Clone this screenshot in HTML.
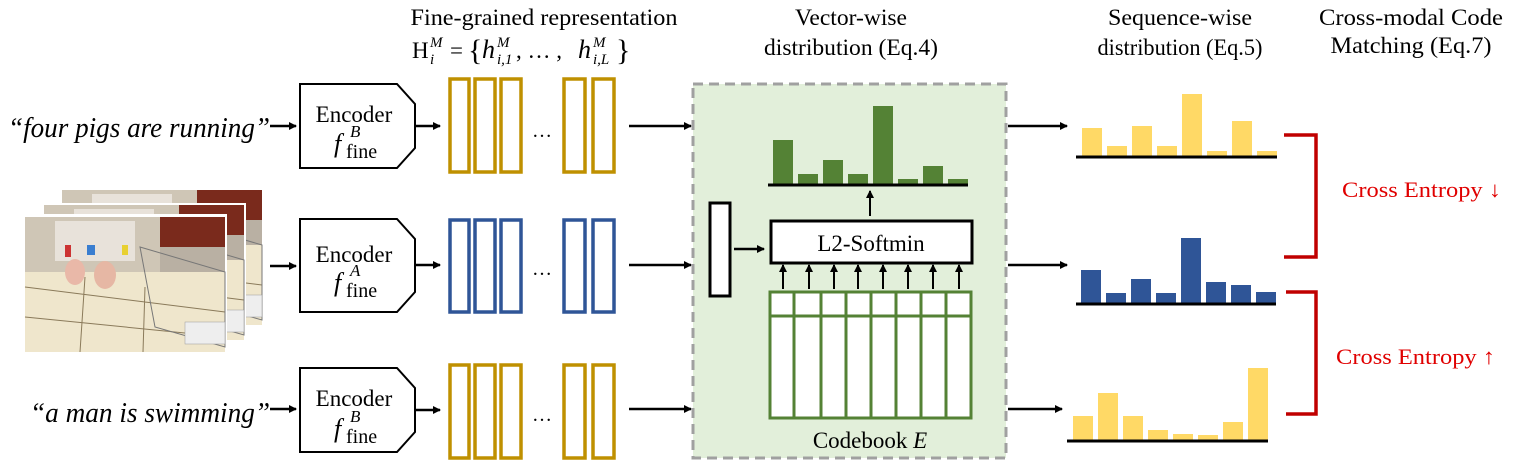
<!DOCTYPE html>
<html><head><meta charset="utf-8"><style>
html,body{margin:0;padding:0;background:#fff;}
svg{display:block;font-family:"Liberation Serif",serif;}
</style></head><body>
<svg width="1522" height="465" viewBox="0 0 1522 465" xmlns="http://www.w3.org/2000/svg">
<defs>
<marker id="ah" markerWidth="8" markerHeight="8" refX="7" refY="4" orient="auto" markerUnits="userSpaceOnUse"><path d="M0,0 L8,4 L0,8 Z" fill="#000"/></marker>
<g id="frame">
<rect x="0" y="0" width="200" height="135" fill="#efe6cc"/>
<rect x="0" y="0" width="200" height="55" fill="#cfc6b6"/>
<rect x="30" y="4" width="80" height="40" fill="#e8e2da"/>
<rect x="135" y="0" width="65" height="30" fill="#7a2a1c"/>
<rect x="135" y="30" width="65" height="25" fill="#b9b0a3"/>
<path d="M0,70 L200,95 M0,100 L200,120 M60,60 L55,135 M120,70 L118,135" stroke="#8a7a5a" stroke-width="1" fill="none"/>
<path d="M115,30 L200,55 L200,130 L130,110 Z" fill="none" stroke="#777" stroke-width="1"/>
<ellipse cx="50" cy="55" rx="10" ry="13" fill="#e9b8a8"/>
<ellipse cx="80" cy="58" rx="11" ry="14" fill="#e6b7a4"/>
<rect x="40" y="28" width="6" height="12" fill="#c33"/>
<rect x="62" y="28" width="8" height="10" fill="#3a7ed0"/>
<rect x="97" y="28" width="6" height="10" fill="#e8d030"/>
<rect x="160" y="105" width="40" height="22" fill="#eee" stroke="#999" stroke-width="0.5"/>
</g>
</defs>

<!-- headers -->
<g font-size="23" text-anchor="middle" fill="#000">
<text x="544" y="25" textLength="267" lengthAdjust="spacingAndGlyphs">Fine-grained representation</text>
<text x="851" y="25" textLength="112" lengthAdjust="spacingAndGlyphs">Vector-wise</text>
<text x="851" y="55" textLength="174" lengthAdjust="spacingAndGlyphs">distribution (Eq.4)</text>
<text x="1180" y="25" textLength="144" lengthAdjust="spacingAndGlyphs">Sequence-wise</text>
<text x="1180" y="55" textLength="165" lengthAdjust="spacingAndGlyphs">distribution (Eq.5)</text>
<text x="1411" y="25" textLength="184" lengthAdjust="spacingAndGlyphs">Cross-modal Code</text>
<text x="1411" y="53" textLength="161" lengthAdjust="spacingAndGlyphs">Matching (Eq.7)</text>
</g>
<!-- formula -->
<g fill="#000">
<text x="412" y="58" font-size="23">H</text>
<text x="430" y="47" font-size="15" font-style="italic">M</text>
<text x="430" y="64" font-size="15" font-style="italic">i</text>
<text x="450" y="58" font-size="23">=</text>
<text x="468" y="60" font-size="30">{</text>
<text x="482" y="58" font-size="26" font-style="italic">h</text>
<text x="497" y="47" font-size="15" font-style="italic">M</text>
<text x="497" y="64" font-size="15" font-style="italic">i,1</text>
<text x="516" y="58" font-size="23">, … ,</text>
<text x="578" y="58" font-size="26" font-style="italic">h</text>
<text x="593" y="47" font-size="15" font-style="italic">M</text>
<text x="593" y="64" font-size="15" font-style="italic">i,L</text>
<text x="616" y="60" font-size="30">}</text>
</g>

<!-- quotes -->
<g font-size="28" font-style="italic" fill="#000">
<text x="8" y="137" textLength="262" lengthAdjust="spacingAndGlyphs">“four pigs are running”</text>
<text x="30" y="422" textLength="240" lengthAdjust="spacingAndGlyphs">“a man is swimming”</text>
</g>

<!-- photo stack -->
<g transform="translate(62,190)"><use href="#frame"/></g>
<rect x="42" y="203" width="204" height="136" fill="#fff"/>
<g transform="translate(44,205)"><use href="#frame"/></g>
<rect x="23" y="214" width="204" height="138" fill="#fff"/>
<g transform="translate(25,217)"><use href="#frame"/></g>

<!-- input arrows -->
<g stroke="#000" stroke-width="2.5" marker-end="url(#ah)">
<line x1="270" y1="126" x2="296" y2="126"/>
<line x1="270" y1="266" x2="296" y2="266"/>
<line x1="270" y1="409" x2="296" y2="409"/>
<line x1="416" y1="126" x2="440" y2="126"/>
<line x1="416" y1="265" x2="440" y2="265"/>
<line x1="416" y1="410" x2="440" y2="410"/>
<line x1="629" y1="126" x2="691" y2="126"/>
<line x1="629" y1="265" x2="691" y2="265"/>
<line x1="629" y1="409" x2="691" y2="409"/>
</g>

<!-- encoders -->
<g fill="#fff" stroke="#000" stroke-width="2">
<path d="M300,84 L397,84 L415,104 L415,148 L397,168 L300,168 Z"/>
<path d="M300,219 L397,219 L415,239 L415,292 L397,312 L300,312 Z"/>
<path d="M300,368 L397,368 L415,388 L415,432 L397,452 L300,452 Z"/>
</g>
<g font-size="23" text-anchor="middle">
<text x="354" y="122">Encoder</text>
<text x="354" y="262">Encoder</text>
<text x="354" y="406">Encoder</text>
</g>
<g>
<text x="334" y="152" font-size="26" font-style="italic">f</text><text x="350" y="137" font-size="17" font-style="italic">B</text><text x="346" y="158" font-size="20">fine</text>
<text x="334" y="291" font-size="26" font-style="italic">f</text><text x="350" y="276" font-size="17" font-style="italic">A</text><text x="346" y="297" font-size="20">fine</text>
<text x="334" y="437" font-size="26" font-style="italic">f</text><text x="350" y="422" font-size="17" font-style="italic">B</text><text x="346" y="443" font-size="20">fine</text>
</g>

<!-- representation rects -->
<g fill="none" stroke-width="3.5">
<g stroke="#BF9000">
<rect x="450" y="79" width="19" height="93"/><rect x="475" y="79" width="20" height="93"/><rect x="501" y="79" width="20" height="93"/><rect x="564" y="79" width="21" height="93"/><rect x="593" y="79" width="21" height="93"/>
<rect x="450" y="365" width="19" height="93"/><rect x="475" y="365" width="20" height="93"/><rect x="501" y="365" width="20" height="93"/><rect x="564" y="365" width="21" height="93"/><rect x="593" y="365" width="21" height="93"/>
</g>
<g stroke="#2F5597">
<rect x="450" y="220" width="19" height="92"/><rect x="475" y="220" width="20" height="92"/><rect x="501" y="220" width="20" height="92"/><rect x="564" y="220" width="21" height="92"/><rect x="593" y="220" width="21" height="92"/>
</g>
</g>
<g font-size="20" text-anchor="middle"><text x="542" y="137">…</text><text x="542" y="275">…</text><text x="542" y="421">…</text></g>

<!-- green box -->
<rect x="693" y="84" width="313" height="374" fill="#E2EFDA" stroke="#a0a0a0" stroke-width="3" stroke-dasharray="10,6"/>
<rect x="710" y="203" width="20" height="93" fill="#fff" stroke="#000" stroke-width="3"/>
<line x1="734" y1="249" x2="764" y2="249" stroke="#000" stroke-width="2.5" marker-end="url(#ah)"/>
<rect x="771" y="221" width="201" height="42" fill="#fff" stroke="#000" stroke-width="3"/>
<text x="871" y="251" font-size="23" text-anchor="middle">L2-Softmin</text>
<g stroke="#000" stroke-width="2" marker-end="url(#ah)">
<line x1="783" y1="289" x2="783" y2="265"/><line x1="809" y1="289" x2="809" y2="265"/><line x1="834" y1="289" x2="834" y2="265"/><line x1="858" y1="289" x2="858" y2="265"/><line x1="883" y1="289" x2="883" y2="265"/><line x1="908" y1="289" x2="908" y2="265"/><line x1="933" y1="289" x2="933" y2="265"/><line x1="959" y1="289" x2="959" y2="265"/>
<line x1="870" y1="216" x2="870" y2="191"/>
</g>
<rect x="770" y="292" width="201" height="126" fill="#fff" stroke="#548235" stroke-width="3"/>
<g stroke="#548235" stroke-width="3">
<line x1="794" y1="292" x2="794" y2="418"/><line x1="821" y1="292" x2="821" y2="418"/><line x1="846" y1="292" x2="846" y2="418"/><line x1="871" y1="292" x2="871" y2="418"/><line x1="896" y1="292" x2="896" y2="418"/><line x1="921" y1="292" x2="921" y2="418"/><line x1="946" y1="292" x2="946" y2="418"/>
<line x1="770" y1="316" x2="971" y2="316"/>
</g>
<text x="870" y="448" font-size="23" text-anchor="middle">Codebook <tspan font-style="italic">E</tspan></text>

<!-- green bars -->
<g fill="#548235">
<rect x="773" y="140" width="20" height="45"/><rect x="798" y="174" width="20" height="11"/><rect x="823" y="160" width="20" height="25"/><rect x="848" y="174" width="20" height="11"/><rect x="873" y="106" width="20" height="79"/><rect x="898" y="179" width="20" height="6"/><rect x="923" y="166" width="20" height="19"/><rect x="948" y="179" width="20" height="6"/>
</g>
<line x1="768" y1="185" x2="968" y2="185" stroke="#000" stroke-width="3"/>

<!-- right arrows -->
<g stroke="#000" stroke-width="2.5" marker-end="url(#ah)">
<line x1="1008" y1="126" x2="1067" y2="126"/>
<line x1="1008" y1="265" x2="1067" y2="265"/>
<line x1="1008" y1="409" x2="1062" y2="409"/>
</g>

<!-- top yellow -->
<g fill="#FFD966">
<rect x="1082" y="128" width="20" height="29"/><rect x="1107" y="146" width="20" height="11"/><rect x="1132" y="126" width="20" height="31"/><rect x="1157" y="146" width="20" height="11"/><rect x="1182" y="94" width="20" height="63"/><rect x="1207" y="151" width="20" height="6"/><rect x="1232" y="121" width="20" height="36"/><rect x="1257" y="151" width="20" height="6"/>
</g>
<line x1="1076" y1="157" x2="1277" y2="157" stroke="#000" stroke-width="3"/>
<!-- blue -->
<g fill="#2F5597">
<rect x="1081" y="270" width="20" height="34"/><rect x="1106" y="293" width="20" height="11"/><rect x="1131" y="279" width="20" height="25"/><rect x="1156" y="293" width="20" height="11"/><rect x="1181" y="238" width="20" height="66"/><rect x="1206" y="282" width="20" height="22"/><rect x="1231" y="285" width="20" height="19"/><rect x="1256" y="292" width="20" height="12"/>
</g>
<line x1="1076" y1="304" x2="1276" y2="304" stroke="#000" stroke-width="3"/>
<!-- bottom yellow -->
<g fill="#FFD966">
<rect x="1073" y="416" width="20" height="25"/><rect x="1098" y="393" width="20" height="48"/><rect x="1123" y="416" width="20" height="25"/><rect x="1148" y="430" width="20" height="11"/><rect x="1173" y="434" width="20" height="7"/><rect x="1198" y="435" width="20" height="6"/><rect x="1223" y="422" width="20" height="19"/><rect x="1248" y="368" width="20" height="73"/>
</g>
<line x1="1067" y1="441" x2="1268" y2="441" stroke="#000" stroke-width="3"/>

<!-- brackets -->
<g fill="none" stroke="#C00000" stroke-width="3.5">
<path d="M1284,135 L1316,135 L1316,257 L1284,257"/>
<path d="M1286,292 L1316,292 L1316,414 L1286,414"/>
</g>
<g font-size="22" fill="#E00000">
<text x="1342" y="197" textLength="159" lengthAdjust="spacingAndGlyphs">Cross Entropy ↓</text>
<text x="1336" y="364" textLength="159" lengthAdjust="spacingAndGlyphs">Cross Entropy ↑</text>
</g>
</svg>
</body></html>
